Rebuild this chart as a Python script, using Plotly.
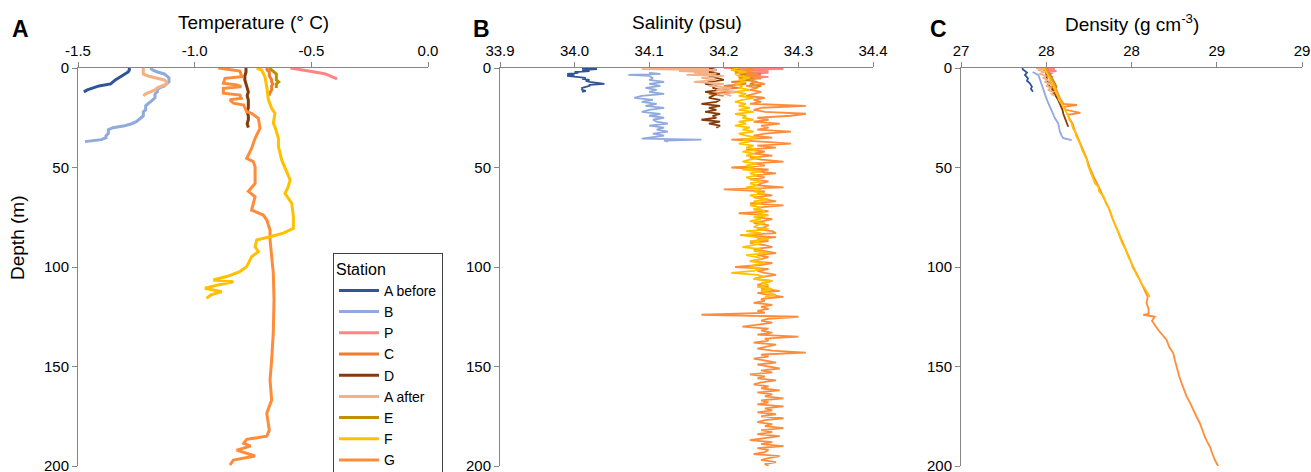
import plotly.graph_objects as go

W, H = 1311, 472

STATIONS = ["A before", "B", "P", "C", "D", "A after", "E", "F", "G"]
COLORS = ["#2F5597", "#8FAADC", "#FF8585", "#ED7D31", "#843C0C",
          "#F4B183", "#BF9000", "#FFC000", "#FF8C3A"]

# ---------------- Temperature (deg C) ----------------
T_ABEF_D = [0, 1, 2, 3, 4, 5, 6, 7, 8, 9, 10, 11, 12]
T_ABEF_V = [-1.28, -1.28, -1.285, -1.30, -1.31, -1.325, -1.34, -1.35, -1.36, -1.41, -1.44, -1.46, -1.475]

T_B_D = [0, 1, 2, 3, 4, 5, 6, 7, 8, 9, 10, 11, 12, 13, 14, 15, 16, 17, 18, 19, 20,
         21, 22, 23, 24, 25, 26, 27, 28, 29, 30, 31, 32, 33, 34, 35, 36, 36.5, 37]
T_B_V = [-1.19, -1.18, -1.16, -1.13, -1.12, -1.11, -1.11, -1.11, -1.12, -1.13, -1.15,
         -1.16, -1.16, -1.17, -1.17, -1.17, -1.18, -1.19, -1.20, -1.21, -1.21, -1.21,
         -1.22, -1.22, -1.22, -1.23, -1.24, -1.25, -1.27, -1.30, -1.35, -1.37, -1.37,
         -1.37, -1.38, -1.38, -1.40, -1.44, -1.47]

T_P_D = [0, 0.5, 1, 1.5, 2, 2.5, 3, 3.5, 4, 4.5, 5, 5.5]
T_P_V = [-0.59, -0.56, -0.53, -0.50, -0.48, -0.46, -0.44, -0.43, -0.42, -0.41, -0.40, -0.39]

T_C_D = [0, 1, 2, 3, 4, 5, 6, 7, 8, 9, 10, 11, 12, 13, 14]
T_C_V = [-0.69, -0.69, -0.68, -0.68, -0.68, -0.675, -0.67, -0.67, -0.665, -0.67, -0.67,
         -0.67, -0.675, -0.68, -0.68]

T_D_D = [0, 2, 4, 6, 8, 10, 12, 14, 16, 18, 20, 22, 24, 26, 28, 30]
T_D_V = [-0.78, -0.78, -0.785, -0.785, -0.78, -0.775, -0.77, -0.775, -0.77, -0.77,
         -0.77, -0.775, -0.77, -0.77, -0.775, -0.77]

T_AAFT_D = [0, 1, 2, 3, 4, 5, 6, 7, 8, 9, 10, 11, 12, 13, 14]
T_AAFT_V = [-1.22, -1.22, -1.22, -1.22, -1.20, -1.17, -1.13, -1.12, -1.12, -1.14,
            -1.16, -1.17, -1.19, -1.21, -1.22]

T_E_D = [0, 1, 2, 3, 4, 5, 6, 7, 8, 9, 10]
T_E_V = [-0.68, -0.67, -0.66, -0.65, -0.65, -0.65, -0.65, -0.64, -0.65, -0.65, -0.65]

T_F_D = [0, 1, 4.4, 9.4, 16, 20.3, 22.8, 27.8, 29.5, 32.8, 35.3, 39.5, 46.2, 52.1, 56.3,
         60, 63, 68, 74.7, 80.6, 83, 84.8, 86.4, 89.8, 92.3, 94.8, 99.8, 102.3, 104.8,
         106.5, 107.4, 109, 110.7, 112.4, 114, 115.7]
T_F_V = [-0.734, -0.713, -0.699, -0.691, -0.684, -0.67, -0.656, -0.663, -0.656, -0.648,
         -0.641, -0.641, -0.627, -0.606, -0.591, -0.600, -0.613, -0.584, -0.577, -0.577,
         -0.62, -0.677, -0.734, -0.741, -0.727, -0.756, -0.777, -0.806, -0.863, -0.92,
         -0.834, -0.90, -0.956, -0.884, -0.93, -0.949]

T_G_D = [0, 0.7, 1.5, 4.4, 5.2, 7.7, 8.5, 9.4, 10.2, 12.7, 13.6, 15.2, 16, 17.7, 18.6,
         22, 22.8, 25.3, 30.3, 35.3, 40.4, 45.4, 47, 49.6, 58, 62, 64.7, 71.4, 73.9,
         76.4, 81.4, 86.4, 94.8, 103, 116.6, 133, 146.7, 156.8, 166.8, 173.5, 182, 185,
         186.6, 188.6, 190, 192, 195, 197, 199.5]
T_G_V = [-0.899, -0.849, -0.806, -0.798, -0.87, -0.877, -0.82, -0.80, -0.877, -0.877,
         -0.806, -0.80, -0.849, -0.834, -0.79, -0.777, -0.756, -0.727, -0.72, -0.741,
         -0.756, -0.777, -0.749, -0.741, -0.741, -0.77, -0.741, -0.756, -0.706, -0.691,
         -0.677, -0.677, -0.67, -0.663, -0.66, -0.663, -0.67, -0.677, -0.67, -0.691,
         -0.68, -0.691, -0.777, -0.79, -0.76, -0.82, -0.741, -0.834, -0.849]

# ---------------- Salinity (psu) ----------------
S_ABEF_D = [0, 0.5, 1, 1.5, 2, 2.5, 3, 3.5, 4, 4.5, 5, 5.5, 6, 6.5, 7, 7.5, 8, 8.5, 9,
            9.5, 10, 10.5, 11, 11.5, 12]
S_ABEF_V = [34.01, 34.03, 34.01, 34.02, 34.00, 34.005, 33.99, 34.00, 33.99, 34.01,
            34.015, 34.01, 34.02, 34.015, 34.02, 34.03, 34.04, 34.02, 34.02, 34.015,
            34.01, 34.01, 34.01, 34.015, 34.01]

S_B_D = [2.5, 3, 3.5, 4, 5, 6, 7, 8, 9, 10, 11, 12, 13, 14, 15, 16, 17, 18, 19, 20, 21,
         22, 23, 24, 25, 26, 27, 28, 29, 30, 31, 32, 33, 34, 35, 35.5, 36, 36.5, 37]
S_B_V = [34.10, 34.115, 34.072, 34.10, 34.105, 34.10, 34.12, 34.10, 34.115, 34.095,
         34.11, 34.10, 34.12, 34.09, 34.08, 34.105, 34.09, 34.11, 34.095, 34.12, 34.10,
         34.09, 34.115, 34.10, 34.12, 34.105, 34.11, 34.125, 34.10, 34.12, 34.11,
         34.125, 34.105, 34.12, 34.10, 34.09, 34.17, 34.12, 34.125]

S_P_D = [0, 0.5, 1, 1.5, 2, 2.5, 3, 3.5, 4, 4.5, 5, 5.5]
S_P_V = [34.20, 34.28, 34.21, 34.26, 34.23, 34.26, 34.22, 34.25, 34.23, 34.26, 34.24, 34.25]

S_C_D = [0, 1, 2, 3, 4, 5, 6, 7, 8, 9, 10, 11, 12, 13, 14]
S_C_V = [34.23, 34.24, 34.22, 34.25, 34.23, 34.22, 34.24, 34.21, 34.23, 34.20, 34.22,
         34.19, 34.21, 34.18, 34.20]

S_D_D = [0, 1, 2, 3, 4, 5, 6, 7, 8, 9, 10, 11, 12, 13, 14, 15, 16, 17, 18, 19, 20, 21,
         22, 23, 24, 25, 26, 27, 28, 29, 30]
S_D_V = [34.18, 34.19, 34.175, 34.195, 34.18, 34.19, 34.20, 34.18, 34.175, 34.19,
         34.185, 34.195, 34.175, 34.19, 34.185, 34.18, 34.195, 34.19, 34.17, 34.195,
         34.18, 34.19, 34.175, 34.195, 34.185, 34.19, 34.17, 34.195, 34.18, 34.195, 34.19]

S_AAFT_D = [0, 0.3, 0.6, 1, 1.5, 2, 2.5, 3, 3.5, 4, 5, 6, 7, 8, 9, 10, 11, 12, 13, 14]
S_AAFT_V = [34.10, 34.18, 34.09, 34.19, 34.14, 34.18, 34.16, 34.19, 34.15, 34.20,
            34.17, 34.19, 34.16, 34.20, 34.18, 34.21, 34.19, 34.22, 34.20, 34.21]

S_E_D = [0, 1, 2, 3, 4, 5, 6, 7, 8, 9, 10]
S_E_V = [34.21, 34.22, 34.215, 34.23, 34.22, 34.24, 34.23, 34.245, 34.235, 34.25, 34.24]

S_F_D = list(range(0, 116))
S_F_V = [34.22, 34.21, 34.23, 34.215, 34.22, 34.235, 34.22, 34.23, 34.215, 34.225,
         34.22, 34.235, 34.215, 34.23, 34.22, 34.24, 34.225, 34.215, 34.23, 34.22,
         34.235, 34.22, 34.24, 34.215, 34.23, 34.225, 34.24, 34.22, 34.23, 34.215,
         34.235, 34.225, 34.24, 34.22, 34.23, 34.245, 34.225, 34.235, 34.22, 34.24,
         34.23, 34.245, 34.225, 34.24, 34.23, 34.25, 34.235, 34.225, 34.245, 34.23,
         34.24, 34.225, 34.25, 34.235, 34.245, 34.23, 34.24, 34.25, 34.235, 34.245,
         34.23, 34.25, 34.24, 34.255, 34.235, 34.245, 34.26, 34.24, 34.25, 34.235,
         34.25, 34.24, 34.255, 34.245, 34.26, 34.24, 34.25, 34.235, 34.255, 34.245,
         34.24, 34.26, 34.23, 34.25, 34.225, 34.245, 34.26, 34.235, 34.25, 34.24,
         34.225, 34.25, 34.24, 34.26, 34.23, 34.245, 34.25, 34.235, 34.255, 34.24,
         34.235, 34.25, 34.24, 34.21, 34.245, 34.255, 34.24, 34.265, 34.25, 34.26,
         34.245, 34.265, 34.25, 34.26, 34.27, 34.255]

S_G_D = list(range(0, 201))
S_G_V = [34.23, 34.24, 34.22, 34.245, 34.23, 34.25, 34.235, 34.24, 34.255, 34.23,
         34.245, 34.235, 34.25, 34.24, 34.23, 34.255, 34.24, 34.25, 34.235, 34.31,
         34.25, 34.24, 34.255, 34.31, 34.29, 34.245, 34.26, 34.24, 34.275, 34.25,
         34.26, 34.245, 34.29, 34.255, 34.24, 34.265, 34.21, 34.25, 34.29, 34.245,
         34.27, 34.23, 34.255, 34.24, 34.265, 34.235, 34.25, 34.28, 34.24, 34.255,
         34.21, 34.26, 34.245, 34.27, 34.24, 34.255, 34.235, 34.26, 34.25, 34.245,
         34.28, 34.20, 34.255, 34.245, 34.265, 34.24, 34.255, 34.27, 34.235, 34.28,
         34.25, 34.24, 34.26, 34.22, 34.255, 34.245, 34.265, 34.25, 34.24, 34.26,
         34.255, 34.245, 34.265, 34.27, 34.222, 34.27, 34.245, 34.26, 34.235, 34.255,
         34.265, 34.24, 34.255, 34.27, 34.245, 34.26, 34.25, 34.235, 34.265, 34.25,
         34.215, 34.26, 34.245, 34.255, 34.27, 34.25, 34.24, 34.265, 34.255, 34.245,
         34.26, 34.25, 34.275, 34.245, 34.26, 34.28, 34.25, 34.255, 34.24, 34.265,
         34.25, 34.26, 34.245, 34.255, 34.17, 34.30, 34.26, 34.25, 34.265, 34.245,
         34.225, 34.26, 34.25, 34.265, 34.245, 34.30, 34.255, 34.26, 34.24, 34.27,
         34.255, 34.245, 34.265, 34.31, 34.25, 34.26, 34.24, 34.255, 34.27, 34.245,
         34.26, 34.275, 34.25, 34.265, 34.235, 34.255, 34.245, 34.27, 34.25, 34.24,
         34.26, 34.25, 34.275, 34.245, 34.265, 34.255, 34.28, 34.25, 34.26, 34.245,
         34.28, 34.255, 34.265, 34.245, 34.27, 34.25, 34.28, 34.255, 34.245, 34.265,
         34.255, 34.28, 34.25, 34.265, 34.245, 34.275, 34.255, 34.235, 34.265, 34.25,
         34.28, 34.245, 34.26, 34.255, 34.24, 34.275, 34.26, 34.25, 34.27, 34.255,
         34.26]

# ---------------- Density ----------------
R_ABEF_D = [0, 0.7, 2.3, 3.5, 5.2, 6.4, 7.7, 9.4, 10.5, 11.9]
R_ABEF_V = [27.36, 27.363, 27.387, 27.375, 27.393, 27.387, 27.404, 27.416, 27.41, 27.422]

R_B_D = [2, 2.7, 3.5, 5, 8.5, 10, 12.7, 15, 17.7, 19, 21, 23, 25.3, 27.8, 30, 32, 34,
         35.3, 36.2]
R_B_V = [27.42, 27.44, 27.453, 27.46, 27.473, 27.48, 27.49, 27.50, 27.512, 27.52,
         27.532, 27.54, 27.551, 27.57, 27.575, 27.58, 27.59, 27.60, 27.649]

R_P_D = [0, 0.5, 1, 1.5, 2, 2.5, 3, 3.5, 4, 4.5, 5, 5.5]
R_P_V = [27.45, 27.55, 27.48, 27.56, 27.50, 27.54, 27.51, 27.53, 27.51, 27.54, 27.52, 27.53]

R_C_D = [0, 1, 2, 3, 4, 5, 6, 7, 8, 9, 10, 11, 12, 13, 14]
R_C_V = [27.50, 27.51, 27.50, 27.52, 27.51, 27.52, 27.53, 27.52, 27.53, 27.54, 27.53,
         27.55, 27.54, 27.55, 27.56]

R_D_D = [0, 2, 4, 6, 8.5, 10, 12, 14, 16, 18, 19.4, 21, 23, 25.3, 27, 29.5]
R_D_V = [27.49, 27.50, 27.50, 27.505, 27.512, 27.53, 27.541, 27.555, 27.57, 27.58,
         27.59, 27.595, 27.60, 27.61, 27.62, 27.629]

R_AAFT_D = [0, 0.5, 1, 2, 3, 4, 5, 6, 7, 8, 9, 10, 11, 12, 13, 14]
R_AAFT_V = [27.44, 27.50, 27.45, 27.49, 27.46, 27.50, 27.48, 27.51, 27.49, 27.52,
            27.50, 27.53, 27.51, 27.54, 27.53, 27.55]

R_E_D = [0, 1, 1.8, 3, 4.5, 6, 7.5, 9.4, 10]
R_E_V = [27.49, 27.50, 27.502, 27.52, 27.53, 27.541, 27.55, 27.56, 27.56]

R_F_D = [0, 2, 5, 7, 10, 12, 14.4, 16, 18, 19.5, 21, 22.5, 24, 26, 27.8, 30, 32, 34,
         36.2, 38.5, 41, 43.5, 46, 49, 52, 55, 58, 59.6, 62, 65, 68, 71.4, 74.5, 78, 81,
         84.8, 88, 91, 94.5, 98, 100, 102, 104, 106.5, 108.5, 111, 113, 115]
R_F_V = [27.49, 27.50, 27.52, 27.525, 27.55, 27.555, 27.57, 27.575, 27.59, 27.60,
         27.61, 27.615, 27.63, 27.635, 27.649, 27.655, 27.67, 27.675, 27.688, 27.70,
         27.71, 27.725, 27.737, 27.745, 27.76, 27.775, 27.786, 27.805, 27.81, 27.84,
         27.85, 27.873, 27.885, 27.90, 27.915, 27.932, 27.945, 27.965, 27.98, 28.0,
         28.005, 28.02, 28.03, 28.05, 28.06, 28.08, 28.095, 28.108]

R_G_D = [0, 3, 6, 9, 12, 15, 18, 18.6, 19.5, 21, 22.5, 23.5, 26, 28, 31, 35, 40, 45,
         50, 55, 60, 65, 70, 75, 80, 85, 90, 95, 100, 105, 110, 115, 118, 121, 123.5,
         124, 125, 127, 131.7, 136.7, 140, 143.4, 147, 150, 155, 158.4, 162, 165,
         168.5, 171.9, 175, 178.5, 182, 185.3, 188, 190.3, 194, 197, 200]
R_G_V = [27.50, 27.51, 27.535, 27.55, 27.565, 27.58, 27.60, 27.68, 27.60, 27.615,
         27.70, 27.625, 27.64, 27.655, 27.665, 27.685, 27.71, 27.735, 27.755, 27.78,
         27.81, 27.835, 27.865, 27.885, 27.91, 27.935, 27.96, 27.985, 28.01, 28.04,
         28.07, 28.095, 28.088, 28.10, 28.10, 28.069, 28.137, 28.12, 28.157, 28.206,
         28.22, 28.245, 28.255, 28.264, 28.28, 28.294, 28.31, 28.323, 28.345, 28.362,
         28.38, 28.401, 28.415, 28.43, 28.445, 28.46, 28.475, 28.489, 28.508]

# ---------------- Axis ticks ----------------
DEPTH_TICKS = [0, 50, 100, 150, 200]
TEMP_TICKS = [-1.5, -1.0, -0.5, 0.0]
TEMP_TEXT = ["-1.5", "-1.0", "-0.5", "0.0"]
SAL_TICKS = [33.9, 34.0, 34.1, 34.2, 34.3, 34.4]
SAL_TEXT = ["33.9", "34.0", "34.1", "34.2", "34.3", "34.4"]
DEN_TICKS = [27.0, 27.5, 28.0, 28.5, 29.0]
DEN_TEXT = ["27", "28", "28", "29", "29"]

TEMP = {"A before": (T_ABEF_D, T_ABEF_V), "B": (T_B_D, T_B_V), "P": (T_P_D, T_P_V),
        "C": (T_C_D, T_C_V), "D": (T_D_D, T_D_V), "A after": (T_AAFT_D, T_AAFT_V),
        "E": (T_E_D, T_E_V), "F": (T_F_D, T_F_V), "G": (T_G_D, T_G_V)}
SAL = {"A before": (S_ABEF_D, S_ABEF_V), "B": (S_B_D, S_B_V), "P": (S_P_D, S_P_V),
       "C": (S_C_D, S_C_V), "D": (S_D_D, S_D_V), "A after": (S_AAFT_D, S_AAFT_V),
       "E": (S_E_D, S_E_V), "F": (S_F_D, S_F_V), "G": (S_G_D, S_G_V)}
DEN = {"A before": (R_ABEF_D, R_ABEF_V), "B": (R_B_D, R_B_V), "P": (R_P_D, R_P_V),
       "C": (R_C_D, R_C_V), "D": (R_D_D, R_D_V), "A after": (R_AAFT_D, R_AAFT_V),
       "E": (R_E_D, R_E_V), "F": (R_F_D, R_F_V), "G": (R_G_D, R_G_V)}

FONT = "Arial, Liberation Sans, sans-serif"
AXC = "#868686"

fig = go.Figure()
draw_order = ["A before", "B", "P", "C", "D", "A after", "E", "G", "F"]
panels = [(TEMP, "x", "y", 3.0, True), (SAL, "x2", "y2", 1.8, False),
          (DEN, "x3", "y3", 1.8, False)]
for data, xa, ya, lw, show in panels:
    for st in draw_order:
        i = STATIONS.index(st)
        d, v = data[st]
        fig.add_trace(go.Scatter(
            x=v, y=d, mode="lines", name=st, legendgroup=st, showlegend=show,
            legendrank=i + 1, line=dict(color=COLORS[i], width=lw),
            xaxis=xa, yaxis=ya, hoverinfo="skip"))

YDOM = [1 - 466 / H, 1 - 68 / H]


def xaxis(dom, rng, tv, tt, anchor):
    return dict(domain=dom, range=rng, side="top", anchor=anchor, showline=True,
                linecolor=AXC, linewidth=1, ticks="outside", ticklen=5, tickcolor=AXC,
                tickvals=tv, ticktext=tt, tickfont=dict(size=15, color="black"),
                showgrid=False, zeroline=False, automargin=False,
                ticklabeloverflow="allow")


def yaxis(anchor):
    return dict(domain=YDOM, range=[200, 0], anchor=anchor, showline=True,
                linecolor=AXC, linewidth=1, ticks="outside", ticklen=5, tickcolor=AXC,
                tickvals=DEPTH_TICKS, tickfont=dict(size=15, color="black"),
                showgrid=False, zeroline=False, automargin=False,
                ticklabeloverflow="allow")


fig.update_layout(
    width=W, height=H, margin=dict(l=0, r=0, t=0, b=0, autoexpand=False),
    paper_bgcolor="white", plot_bgcolor="white",
    font=dict(family=FONT, color="black"),
    xaxis=xaxis([78 / W, 428 / W], [-1.5, 0.0], TEMP_TICKS, TEMP_TEXT, "y"),
    xaxis2=xaxis([500 / W, 873 / W], [33.9, 34.4], SAL_TICKS, SAL_TEXT, "y2"),
    xaxis3=xaxis([961 / W, 1302 / W], [27.0, 29.0], DEN_TICKS, DEN_TEXT, "y3"),
    yaxis=yaxis("x"), yaxis2=yaxis("x2"), yaxis3=yaxis("x3"),
    legend=dict(x=333 / W, y=1 - 253 / H, xanchor="left", yanchor="top",
                bordercolor="#404040", borderwidth=1, bgcolor="white",
                font=dict(size=14, color="black"), itemwidth=40, tracegroupgap=0,
                title=dict(text="Station", font=dict(size=16, color="black"))),
    showlegend=True,
)

ann = []
for txt, xc in [("Temperature (° C)", 253), ("Salinity (psu)", 686.5),
                ("Density (g cm<sup>-3</sup>)", 1131.5)]:
    ann.append(dict(text=txt, x=xc / W, y=1 - 23 / H, xref="paper", yref="paper",
                    xanchor="center", yanchor="middle", showarrow=False,
                    font=dict(size=19, color="black")))
for txt, xc in [("A", 20), ("B", 481), ("C", 938)]:
    ann.append(dict(text="<b>" + txt + "</b>", x=xc / W, y=1 - 28.5 / H, xref="paper",
                    yref="paper", xanchor="center", yanchor="middle", showarrow=False,
                    font=dict(size=23, color="black")))
ann.append(dict(text="Depth (m)", x=17 / W, y=1 - 238 / H, xref="paper", yref="paper",
                xanchor="center", yanchor="middle", textangle=-90, showarrow=False,
                font=dict(size=19, color="black")))
fig.update_layout(annotations=ann)

fig.write_html("out.html", config={"displayModeBar": False},
               post_script="document.body.style.margin='0px';"
                           "document.body.style.overflow='hidden';")
